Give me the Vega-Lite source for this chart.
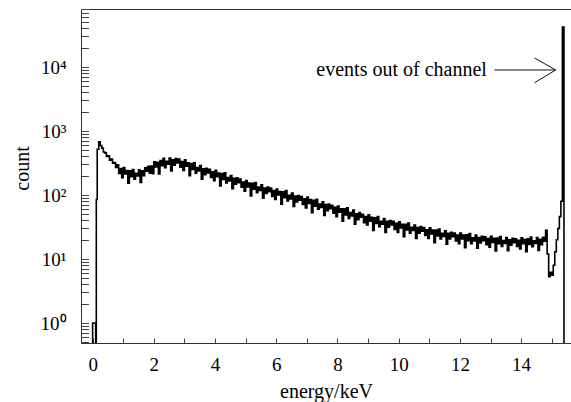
{
  "$schema": "https://vega.github.io/schema/vega-lite/v6.json",
  "autosize": {"type": "none"},
  "width": 490,
  "height": 334,
  "padding": {"left": 81, "top": 9, "right": 0, "bottom": 59},
  "background": "white",
  "view": {"stroke": null},
  "config": {"font": "Liberation Serif"},
  "layer": [
    {
      "data": {"values": [
        {"E":-0.05,"c":0.3},{"E":0.00,"c":1},{"E":0.05,"c":1},{"E":0.10,"c":0.3},{"E":0.12,"c":85},{"E":0.15,"c":520},{"E":0.20,"c":680},{"E":0.25,"c":590},{"E":0.30,"c":540},{"E":0.35,"c":470},{"E":0.40,"c":455},{"E":0.45,"c":400},{"E":0.50,"c":410},{"E":0.55,"c":350},{"E":0.60,"c":365},{"E":0.65,"c":315},{"E":0.70,"c":320},{"E":0.75,"c":270},
        {"E":0.80,"c":297},{"E":0.85,"c":217},{"E":0.90,"c":260},{"E":0.95,"c":186},{"E":1.00,"c":269},{"E":1.05,"c":213},{"E":1.10,"c":242},{"E":1.15,"c":153},{"E":1.20,"c":239},{"E":1.25,"c":194},{"E":1.30,"c":250},{"E":1.35,"c":176},{"E":1.40,"c":218},{"E":1.45,"c":198},{"E":1.50,"c":247},{"E":1.55,"c":157},{"E":1.60,"c":238},{"E":1.65,"c":201},{"E":1.70,"c":266},{"E":1.75,"c":235},
        {"E":1.80,"c":280},{"E":1.85,"c":220},{"E":1.90,"c":284},{"E":1.95,"c":215},{"E":2.00,"c":331},{"E":2.05,"c":274},{"E":2.10,"c":324},{"E":2.15,"c":213},{"E":2.20,"c":344},{"E":2.25,"c":286},{"E":2.30,"c":375},{"E":2.35,"c":266},{"E":2.40,"c":335},{"E":2.45,"c":304},{"E":2.50,"c":378},{"E":2.55,"c":238},{"E":2.60,"c":355},{"E":2.65,"c":291},{"E":2.70,"c":372},{"E":2.75,"c":317},
        {"E":2.80,"c":364},{"E":2.85,"c":272},{"E":2.90,"c":334},{"E":2.95,"c":242},{"E":3.00,"c":354},{"E":3.05,"c":281},{"E":3.10,"c":318},{"E":3.15,"c":200},{"E":3.20,"c":311},{"E":3.25,"c":250},{"E":3.30,"c":319},{"E":3.35,"c":220},{"E":3.40,"c":268},{"E":3.45,"c":237},{"E":3.50,"c":288},{"E":3.55,"c":176},{"E":3.60,"c":257},{"E":3.65,"c":208},{"E":3.70,"c":262},{"E":3.75,"c":221},
        {"E":3.80,"c":252},{"E":3.85,"c":188},{"E":3.90,"c":230},{"E":3.95,"c":167},{"E":4.00,"c":244},{"E":4.05,"c":194},{"E":4.10,"c":220},{"E":4.15,"c":139},{"E":4.20,"c":216},{"E":4.25,"c":175},{"E":4.30,"c":222},{"E":4.35,"c":154},{"E":4.40,"c":187},{"E":4.45,"c":166},{"E":4.50,"c":202},{"E":4.55,"c":125},{"E":4.60,"c":182},{"E":4.65,"c":147},{"E":4.70,"c":185},{"E":4.75,"c":156},
        {"E":4.80,"c":177},{"E":4.85,"c":132},{"E":4.90,"c":160},{"E":4.95,"c":115},{"E":5.00,"c":168},{"E":5.05,"c":134},{"E":5.10,"c":154},{"E":5.15,"c":97},{"E":5.20,"c":152},{"E":5.25,"c":123},{"E":5.30,"c":157},{"E":5.35,"c":109},{"E":5.40,"c":133},{"E":5.45,"c":118},{"E":5.50,"c":144},{"E":5.55,"c":89},{"E":5.60,"c":129},{"E":5.65,"c":106},{"E":5.70,"c":133},{"E":5.75,"c":113},
        {"E":5.80,"c":128},{"E":5.85,"c":95},{"E":5.90,"c":117},{"E":5.95,"c":85},{"E":6.00,"c":124},{"E":6.05,"c":100},{"E":6.10,"c":113},{"E":6.15,"c":72},{"E":6.20,"c":112},{"E":6.25,"c":91},{"E":6.30,"c":117},{"E":6.35,"c":81},{"E":6.40,"c":99},{"E":6.45,"c":87},{"E":6.50,"c":107},{"E":6.55,"c":66},{"E":6.60,"c":96},{"E":6.65,"c":78},{"E":6.70,"c":98},{"E":6.75,"c":83},
        {"E":6.80,"c":95},{"E":6.85,"c":71},{"E":6.90,"c":87},{"E":6.95,"c":63},{"E":7.00,"c":93},{"E":7.05,"c":74},{"E":7.10,"c":85},{"E":7.15,"c":53},{"E":7.20,"c":83},{"E":7.25,"c":67},{"E":7.30,"c":86},{"E":7.35,"c":60},{"E":7.40,"c":72},{"E":7.45,"c":64},{"E":7.50,"c":78},{"E":7.55,"c":48},{"E":7.60,"c":71},{"E":7.65,"c":57},{"E":7.70,"c":72},{"E":7.75,"c":61},
        {"E":7.80,"c":69},{"E":7.85,"c":52},{"E":7.90,"c":64},{"E":7.95,"c":46},{"E":8.00,"c":67},{"E":8.05,"c":54},{"E":8.10,"c":61},{"E":8.15,"c":39},{"E":8.20,"c":61},{"E":8.25,"c":49},{"E":8.30,"c":63},{"E":8.35,"c":43},{"E":8.40,"c":53},{"E":8.45,"c":47},{"E":8.50,"c":58},{"E":8.55,"c":35},{"E":8.60,"c":51},{"E":8.65,"c":41},{"E":8.70,"c":53},{"E":8.75,"c":45},
        {"E":8.80,"c":50},{"E":8.85,"c":37},{"E":8.90,"c":46},{"E":8.95,"c":34},{"E":9.00,"c":49},{"E":9.05,"c":39},{"E":9.10,"c":45},{"E":9.15,"c":28},{"E":9.20,"c":44},{"E":9.25,"c":36},{"E":9.30,"c":46},{"E":9.35,"c":32},{"E":9.40,"c":39},{"E":9.45,"c":35},{"E":9.50,"c":43},{"E":9.55,"c":26},{"E":9.60,"c":39},{"E":9.65,"c":31.5},{"E":9.70,"c":40},{"E":9.75,"c":34},
        {"E":9.80,"c":39},{"E":9.85,"c":29},{"E":9.90,"c":36},{"E":9.95,"c":26},{"E":10.00,"c":38},{"E":10.05,"c":30.6},{"E":10.10,"c":35},{"E":10.15,"c":22.4},{"E":10.20,"c":35},{"E":10.25,"c":28.5},{"E":10.30,"c":36.6},{"E":10.35,"c":25.4},{"E":10.40,"c":31.2},{"E":10.45,"c":27.9},{"E":10.50,"c":34},{"E":10.55,"c":21},{"E":10.60,"c":31},{"E":10.65,"c":25.2},{"E":10.70,"c":32},{"E":10.75,"c":27.2},
        {"E":10.80,"c":31},{"E":10.85,"c":23.3},{"E":10.90,"c":28.7},{"E":10.95,"c":20.9},{"E":11.00,"c":30.7},{"E":11.05,"c":24.6},{"E":11.10,"c":28.3},{"E":11.15,"c":18},{"E":11.20,"c":28.3},{"E":11.25,"c":22.9},{"E":11.30,"c":29.5},{"E":11.35,"c":20.5},{"E":11.40,"c":25.2},{"E":11.45,"c":22.5},{"E":11.50,"c":27.6},{"E":11.55,"c":17.1},{"E":11.60,"c":25.3},{"E":11.65,"c":20.6},{"E":11.70,"c":26.2},{"E":11.75,"c":22.3},
        {"E":11.80,"c":25.5},{"E":11.85,"c":19.2},{"E":11.90,"c":23.7},{"E":11.95,"c":17.3},{"E":12.00,"c":25.5},{"E":12.05,"c":20.5},{"E":12.10,"c":23.7},{"E":12.15,"c":15},{"E":12.20,"c":23.8},{"E":12.25,"c":19.3},{"E":12.30,"c":24.9},{"E":12.35,"c":17.3},{"E":12.40,"c":21.4},{"E":12.45,"c":19.2},{"E":12.50,"c":23.6},{"E":12.55,"c":14.7},{"E":12.60,"c":21.7},{"E":12.65,"c":17.8},{"E":12.70,"c":22.7},{"E":12.75,"c":19.4},
        {"E":12.80,"c":22.3},{"E":12.85,"c":16.8},{"E":12.90,"c":20.9},{"E":12.95,"c":15.3},{"E":13.00,"c":22.6},{"E":13.05,"c":18.2},{"E":13.10,"c":21},{"E":13.15,"c":13.4},{"E":13.20,"c":21.2},{"E":13.25,"c":17.3},{"E":13.30,"c":22.4},{"E":13.35,"c":15.7},{"E":13.40,"c":19.5},{"E":13.45,"c":17.5},{"E":13.50,"c":21.6},{"E":13.55,"c":13.5},{"E":13.60,"c":20},{"E":13.65,"c":16.4},{"E":13.70,"c":21},{"E":13.75,"c":18},
        {"E":13.80,"c":20.7},{"E":13.85,"c":15.7},{"E":13.90,"c":19.6},{"E":13.95,"c":14.4},{"E":14.00,"c":21.5},{"E":14.05,"c":17.4},{"E":14.10,"c":20.2},{"E":14.15,"c":13},{"E":14.20,"c":20.6},{"E":14.25,"c":16.9},{"E":14.30,"c":22},{"E":14.35,"c":15.5},{"E":14.40,"c":19.3},{"E":14.45,"c":17.5},{"E":14.50,"c":21.6},{"E":14.55,"c":13.6},{"E":14.60,"c":20.3},{"E":14.65,"c":16.8},{"E":14.70,"c":21.8},{"E":14.75,"c":18.9},
        {"E":14.80,"c":28},{"E":14.85,"c":12},{"E":14.90,"c":5.3},{"E":14.95,"c":6.2},{"E":15.00,"c":5.6},{"E":15.05,"c":8},{"E":15.10,"c":13},{"E":15.15,"c":20},{"E":15.20,"c":30},{"E":15.25,"c":46},{"E":15.30,"c":80},{"E":15.35,"c":42000},{"E":15.40,"c":0.3},{"E":15.70,"c":0.3}
      ]},
      "mark": {"type": "line", "interpolate": "step-after", "color": "#000", "strokeWidth": 1.6, "clip": true},
      "encoding": {
        "x": {"field": "E", "type": "quantitative",
          "scale": {"domain": [-0.38, 15.63], "nice": false, "zero": false},
          "axis": {"orient": "bottom", "values": [0,0.5,1,1.5,2,2.5,3,3.5,4,4.5,5,5.5,6,6.5,7,7.5,8,8.5,9,9.5,10,10.5,11,11.5,12,12.5,13,13.5,14,14.5,15,15.5],
            "format": "d",
            "labelExpr": "datum.value % 2 === 0 ? datum.label : ''",
            "grid": false, "ticks": true, "tickSize": -5, "labelPadding": 17, "labelFlush": false, "labelOverlap": false,
            "labelFont": "Liberation Serif", "labelFontSize": 19, "labelColor": "#000",
            "domainColor": "#333", "tickColor": "#444",
            "title": "energy/keV", "titleFont": "Liberation Serif", "titleFontSize": 20, "titleFontWeight": "normal", "titleColor": "#000", "titlePadding": 7,
            "encode": {"ticks": {"y2": {"condition": {"test": "datum.value % 2 === 0", "value": -10.5}, "value": -5}}}
          }},
        "y": {"field": "c", "type": "quantitative",
          "scale": {"type": "log", "domain": [0.487, 80600], "nice": false},
          "axis": {"orient": "left", "values": [0.5,0.6,0.7,0.8,0.9,1,2,3,4,5,6,7,8,9,10,20,30,40,50,60,70,80,90,100,200,300,400,500,600,700,800,900,1000,2000,3000,4000,5000,6000,7000,8000,9000,10000,20000,30000,40000,50000,60000,70000,80000],
            "labelExpr": "datum.value === 1 ? '10⁰' : datum.value === 10 ? '10¹' : datum.value === 100 ? '10²' : datum.value === 1000 ? '10³' : datum.value === 10000 ? '10⁴' : ''",
            "grid": false, "ticks": true, "tickSize": -7.5, "labelPadding": 22.5, "labelOverlap": false,
            "labelFont": "Liberation Serif", "labelFontSize": 19, "labelColor": "#000",
            "domainColor": "#333", "tickColor": "#444",
            "title": "count", "titleFont": "Liberation Serif", "titleFontSize": 20, "titleFontWeight": "normal", "titleColor": "#000", "titlePadding": 8, "titleY": 159,
            "encode": {"ticks": {"x2": {"condition": {"test": "indexof([1,10,100,1000,10000], datum.value) >= 0", "value": 15}, "value": 7.5}}}
          }}
      }
    },
    {
      "data": {"values": [
        {"x1": 13.13, "x2": 15.13, "y1": 8980, "y2": 8980},
        {"x1": 14.44, "x2": 15.13, "y1": 13800, "y2": 8980},
        {"x1": 14.44, "x2": 15.13, "y1": 5690, "y2": 8980}
      ]},
      "mark": {"type": "rule", "color": "#111", "strokeWidth": 1},
      "encoding": {
        "x": {"field": "x1", "type": "quantitative",
          "scale": {"domain": [-0.38, 15.63], "nice": false, "zero": false},
          "axis": {"orient": "top", "labels": false, "ticks": false, "title": null, "grid": false, "domainColor": "#333"}},
        "x2": {"field": "x2"},
        "y": {"field": "y1", "type": "quantitative", "scale": {"type": "log", "domain": [0.487, 80600], "nice": false}},
        "y2": {"field": "y2"}
      }
    },
    {
      "data": {"values": [{"x": 7.31, "y": 7230, "label": "events out of channel"}]},
      "mark": {"type": "text", "align": "left", "baseline": "alphabetic", "font": "Liberation Serif", "fontSize": 20, "color": "#000"},
      "encoding": {
        "x": {"field": "x", "type": "quantitative", "scale": {"domain": [-0.38, 15.63], "nice": false, "zero": false}, "axis": null},
        "y": {"field": "y", "type": "quantitative", "scale": {"type": "log", "domain": [0.487, 80600], "nice": false}},
        "text": {"field": "label"}
      }
    }
  ]
}
